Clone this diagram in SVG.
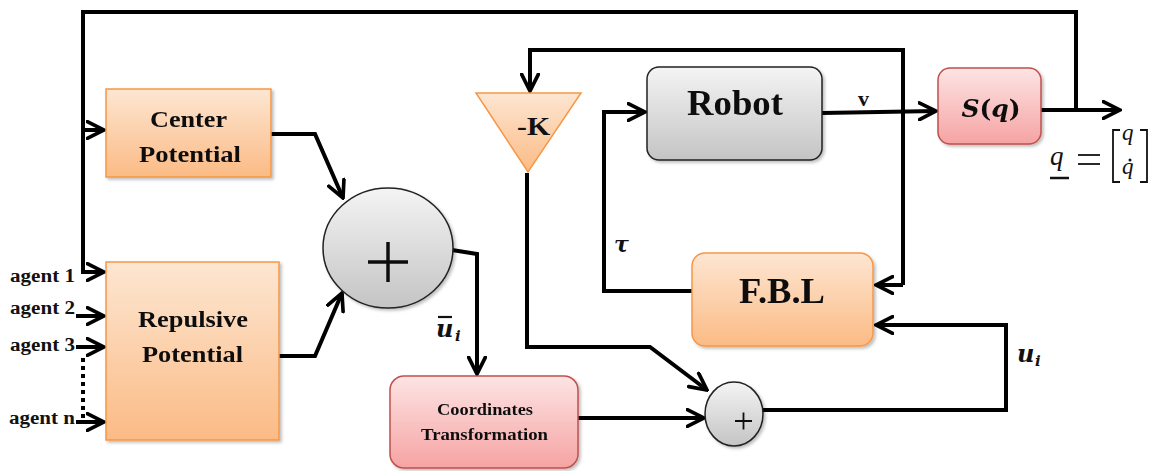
<svg xmlns="http://www.w3.org/2000/svg" width="1157" height="471" viewBox="0 0 1157 471">
  <style>
    .wire { fill: none; stroke: #000; stroke-width: 4; stroke-linejoin: miter; }
    .arr { marker-end: url(#chev); }
    .lbl { font-family: "Liberation Serif", "Times New Roman", serif; font-weight: bold; fill: #111; }
    .math { font-family: "DejaVu Serif", "Liberation Serif", serif; font-style: italic; font-weight: bold; fill: #111; }
    .orange { fill: url(#gOrange); stroke: #f79646; stroke-width: 1.5; }
    .pink { fill: url(#gPink); stroke: #c0504d; stroke-width: 1.5; }
    .gray { fill: url(#gGray); stroke: #222; stroke-width: 1.5; }
  </style>
  <defs>
    <linearGradient id="gOrange" x1="0" y1="0" x2="0" y2="1">
      <stop offset="0" stop-color="#fde6d2"/>
      <stop offset="1" stop-color="#fbbb85"/>
    </linearGradient>
    <linearGradient id="gPink" x1="0" y1="0" x2="0" y2="1">
      <stop offset="0" stop-color="#fde4e4"/>
      <stop offset="1" stop-color="#f6a3a3"/>
    </linearGradient>
    <linearGradient id="gGray" x1="0" y1="0" x2="0" y2="1">
      <stop offset="0" stop-color="#f4f4f4"/>
      <stop offset="1" stop-color="#c4c4c4"/>
    </linearGradient>
    <filter id="shadow" x="-10%" y="-10%" width="130%" height="130%">
      <feDropShadow dx="2" dy="2" stdDeviation="1.5" flood-color="#000" flood-opacity="0.25"/>
    </filter>
    <marker id="chev" viewBox="0 0 12 12" refX="11" refY="6" markerWidth="5" markerHeight="5" markerUnits="strokeWidth" orient="auto">
      <path d="M1,1 L11,6 L1,11" fill="none" stroke="#000" stroke-width="2.2" stroke-linecap="round"/>
    </marker>
  </defs>

  <!-- connectors -->
  <g id="connectors">
    <!-- outer feedback loop from the output to the potentials -->
    <path class="wire arr" d="M1076,110 V12 H83 V272 H104"/>
    <path class="wire arr" d="M83,130 H104"/>
    <!-- agent inputs -->
    <path class="wire arr" d="M76,316 H104"/>
    <path class="wire arr" d="M76,347 H104"/>
    <path class="wire arr" d="M76,422 H104"/>
    <path d="M83,358 V418" fill="none" stroke="#000" stroke-width="4" stroke-dasharray="4,4"/>
    <!-- potentials into the summer -->
    <path class="wire arr" d="M271,134 H315 L343,198"/>
    <path class="wire arr" d="M279,356 H315 L342,293"/>
    <!-- summer to coordinates transformation -->
    <path class="wire arr" d="M452,250 L477,254 V374"/>
    <!-- coordinates transformation to small summer -->
    <path class="wire arr" d="M578,418 H704"/>
    <!-- gain path to small summer -->
    <path class="wire arr" d="M527,173 V347 H650 L707,390"/>
    <!-- small summer to F.B.L -->
    <path class="wire arr" d="M763,410 H1006 V325 H876"/>
    <!-- F.B.L torque to robot -->
    <path class="wire arr" d="M692,291 H604 V112 H645"/>
    <!-- robot to S(q) -->
    <path class="wire arr" d="M822,113 L936,111"/>
    <!-- S(q) output -->
    <path class="wire arr" d="M1041,110 H1120"/>
    <!-- state feedback to gain and F.B.L -->
    <path class="wire arr" d="M903,285 V50 H530 V91"/>
    <path class="wire arr" d="M903,285 H876"/>
  </g>

  <!-- connector labels -->
  <g id="labels">
    <text class="lbl" x="10" y="282" font-size="18" textLength="65" lengthAdjust="spacingAndGlyphs">agent 1</text>
    <text class="lbl" x="10" y="314" font-size="18" textLength="65" lengthAdjust="spacingAndGlyphs">agent 2</text>
    <text class="lbl" x="10" y="351" font-size="18" textLength="65" lengthAdjust="spacingAndGlyphs">agent 3</text>
    <text class="lbl" x="9" y="424" font-size="18" textLength="66" lengthAdjust="spacingAndGlyphs">agent n</text>
    <text class="math" x="436" y="337" font-size="24">u</text>
    <line x1="438" y1="317" x2="452" y2="317" stroke="#111" stroke-width="2.2"/>
    <text class="math" x="455" y="341" font-size="15">i</text>
    <text class="math" x="1017" y="362" font-size="24">u</text>
    <text class="math" x="1035" y="366" font-size="15">i</text>
    <text class="math" x="614" y="252" font-size="22">τ</text>
    <text class="lbl" x="858" y="106" font-size="22">v</text>
    <!-- q = [q ; q-dot] -->
    <g font-family="Liberation Serif, serif" font-style="italic" fill="#111">
      <text x="1050" y="165" font-size="27">q</text>
      <line x1="1050" y1="178" x2="1069" y2="178" stroke="#111" stroke-width="2.5"/>
      <line x1="1078" y1="155" x2="1100" y2="155" stroke="#111" stroke-width="1.8"/>
      <line x1="1078" y1="164" x2="1100" y2="164" stroke="#111" stroke-width="1.8"/>
      <path d="M1120,130 H1113 V182 H1120" fill="none" stroke="#111" stroke-width="1.8"/>
      <path d="M1140,130 H1147 V182 H1140" fill="none" stroke="#111" stroke-width="1.8"/>
      <text x="1122" y="140" font-size="23">q</text>
      <text x="1122" y="174" font-size="23">q</text>
      <circle cx="1130" cy="160" r="1.5" fill="#111"/>
    </g>
  </g>

  <g id="center-potential" filter="url(#shadow)">
    <rect class="orange" x="106" y="89" width="165" height="88"/>
    <text class="lbl" x="150" y="127" font-size="24" textLength="77" lengthAdjust="spacingAndGlyphs">Center</text>
    <text class="lbl" x="139" y="162" font-size="24" textLength="102" lengthAdjust="spacingAndGlyphs">Potential</text>
  </g>

  <g id="repulsive-potential" filter="url(#shadow)">
    <rect class="orange" x="106" y="262" width="173" height="178"/>
    <text class="lbl" x="138" y="327" font-size="24" textLength="110" lengthAdjust="spacingAndGlyphs">Repulsive</text>
    <text class="lbl" x="142" y="362" font-size="24" textLength="101" lengthAdjust="spacingAndGlyphs">Potential</text>
  </g>

  <g id="summer" filter="url(#shadow)">
    <ellipse class="gray" cx="388" cy="248" rx="65" ry="60"/>
    <path d="M368,262 H408 M388,242 V282" stroke="#111" stroke-width="3.5" fill="none"/>
  </g>

  <g id="coordinates-transformation" filter="url(#shadow)">
    <rect class="pink" x="390" y="376" width="188" height="92" rx="14"/>
    <text class="lbl" x="437" y="415" font-size="17" textLength="96" lengthAdjust="spacingAndGlyphs">Coordinates</text>
    <text class="lbl" x="421" y="440" font-size="17" textLength="127" lengthAdjust="spacingAndGlyphs">Transformation</text>
  </g>

  <g id="small-summer" filter="url(#shadow)">
    <ellipse class="gray" cx="734" cy="414" rx="29" ry="32"/>
    <path d="M735,421 H752 M743.5,412.5 V429.5" stroke="#111" stroke-width="1.8" fill="none"/>
  </g>

  <g id="gain">
    <polygon points="476,93 581,93 528,172" fill="url(#gOrange)" stroke="#f79646" stroke-width="1.5"/>
    <text class="lbl" x="517" y="135" font-size="26" textLength="33" lengthAdjust="spacingAndGlyphs">-K</text>
  </g>

  <g id="robot" filter="url(#shadow)">
    <rect class="gray" x="647" y="67" width="175" height="93" rx="12"/>
    <text class="lbl" x="687" y="115" font-size="35" textLength="96" lengthAdjust="spacingAndGlyphs">Robot</text>
  </g>

  <g id="fbl" filter="url(#shadow)">
    <rect class="orange" x="692" y="253" width="181" height="93" rx="13"/>
    <text class="lbl" x="739" y="303" font-size="35" textLength="86" lengthAdjust="spacingAndGlyphs">F.B.L</text>
  </g>

  <g id="s-of-q" filter="url(#shadow)">
    <rect class="pink" x="938" y="68" width="103" height="76" rx="12"/>
    <text x="991" y="117" font-size="25" text-anchor="middle" fill="#111" font-family="DejaVu Serif, serif" font-weight="bold"><tspan font-style="italic">S</tspan>(<tspan font-style="italic">q</tspan>)</text>
  </g>
</svg>
